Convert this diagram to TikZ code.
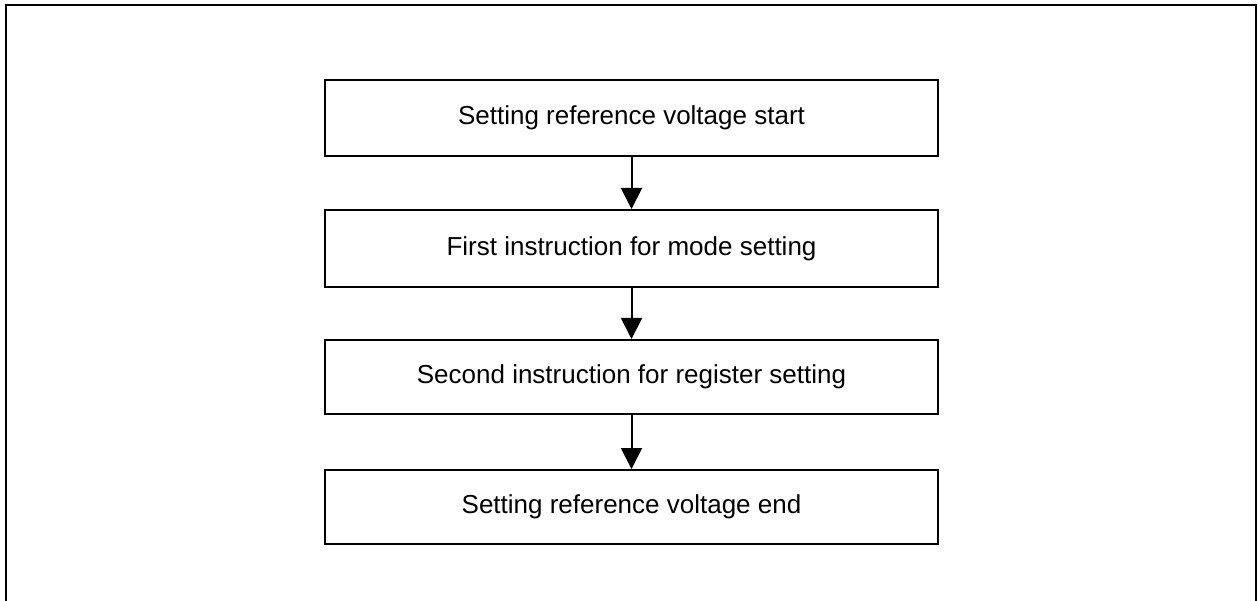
\documentclass[tikz,border=0pt]{standalone}
\usepackage{fontspec}
\setmainfont{Liberation Sans}
\usetikzlibrary{arrows.meta}
\begin{document}
\begin{tikzpicture}[x=1pt,y=-1pt,
  stepbox/.style={draw=black,line width=2pt,fill=white,minimum width=613pt,
    inner sep=0pt,font=\fontsize{26}{30}\selectfont,anchor=north},
  flow/.style={draw=black,line width=2pt,
    -{Triangle[length=21pt,width=21pt]}}]
  \useasboundingbox (0,0) rectangle (1258,601);
  \clip (0,0) rectangle (1258,601);
  % outer frame (its lower edge lies below the visible area)
  \draw[line width=2.2pt] (6,5) rectangle (1256,640);
  % process steps
  \node[stepbox,minimum height=76pt] (s1) at (631.5,79) {Setting reference voltage start};
  \node[stepbox,minimum height=77pt] (s2) at (631.5,209) {First instruction for mode setting};
  \node[stepbox,minimum height=74pt] (s3) at (631.5,339) {Second instruction for register setting};
  \node[stepbox,minimum height=74pt] (s4) at (631.5,469) {Setting reference voltage end};
  % connectors
  \draw[flow] (s1.south) -- (s2.north);
  \draw[flow] (s2.south) -- (s3.north);
  \draw[flow] (s3.south) -- (s4.north);
\end{tikzpicture}
\end{document}
